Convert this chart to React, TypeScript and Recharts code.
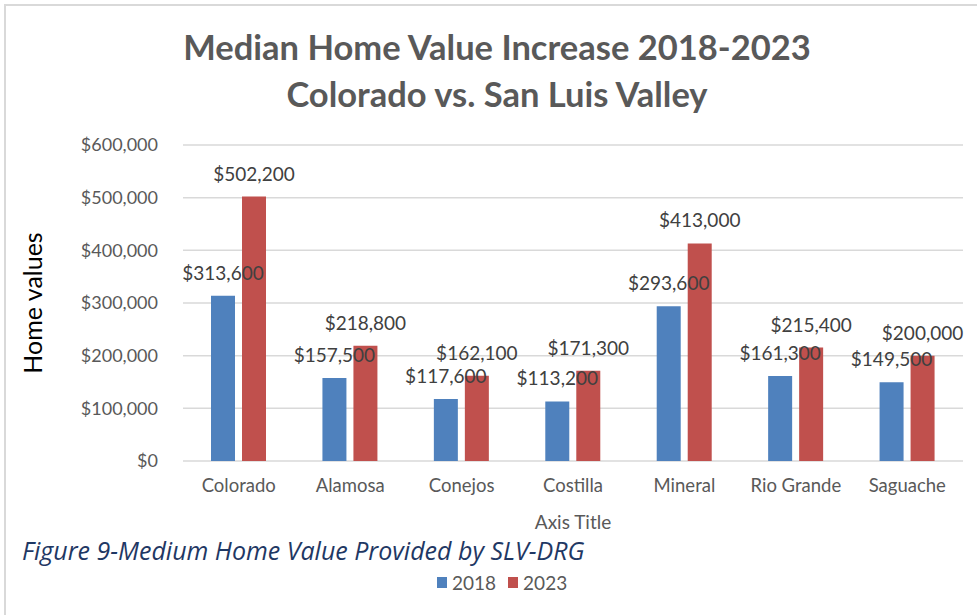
import React from 'react';
import { BarChart, Bar, XAxis, YAxis, CartesianGrid, LabelList } from 'recharts';

const counties = ['Colorado', 'Alamosa', 'Conejos', 'Costilla', 'Mineral', 'Rio Grande', 'Saguache'];
const values2018 = [313600, 157500, 117600, 113200, 293600, 161300, 149500];
const values2023 = [502200, 218800, 162100, 171300, 413000, 215400, 200000];
const yTicks = [0, 100000, 200000, 300000, 400000, 500000, 600000];

const chartData = counties.map((name, i) => ({
  name,
  y2018: values2018[i],
  y2023: values2023[i],
}));

const BLUE = '#4F81BD';
const RED = '#C0504D';
const FONT = 'Lato, sans-serif';

const money = (v: number) => '$' + v.toLocaleString('en-US');

const App: React.FC = () => {
  return (
    <div style={{ position: 'absolute', top: 0, left: 0, width: 977, height: 615, background: '#fff', overflow: 'hidden' }}>
      <div style={{ position: 'absolute', top: 4, left: 4, right: -10, bottom: -10, borderTop: '2px solid #D9D9D9', borderLeft: '2px solid #D9D9D9' }} />
      <div style={{ position: 'absolute', top: 23, left: 0, width: 994, textAlign: 'center', fontFamily: FONT, fontWeight: 700, fontSize: 34.5, lineHeight: '47px', color: '#595959' }}>
        Median Home Value Increase 2018-2023
        <br />
        Colorado vs. San Luis Valley
      </div>
      <BarChart
        width={977}
        height={615}
        data={chartData}
        margin={{ top: 145, right: 14, bottom: 124, left: 0 }}
        barSize={24}
        barGap={7}
        style={{ position: 'absolute', top: 0, left: 0 }}
      >
        <CartesianGrid vertical={false} stroke="#D9D9D9" strokeWidth={1.5} />
        <XAxis
          dataKey="name"
          height={30}
          axisLine={false}
          tickLine={false}
          tickSize={0}
          tickMargin={18}
          tick={{ fill: '#595959', fontSize: 18.5, fontFamily: FONT }}
          interval={0}
          label={{ value: 'Axis Title', position: 'insideBottom', offset: -38, fill: '#595959', fontSize: 19, fontFamily: FONT }}
        />
        <YAxis
          width={183}
          domain={[0, 600000]}
          ticks={yTicks}
          tickFormatter={money}
          axisLine={false}
          tickLine={false}
          tickSize={0}
          tickMargin={25}
          tick={{ fill: '#595959', fontSize: 18, fontFamily: FONT }}
          label={{ value: 'Home values', angle: -90, position: 'insideLeft', offset: 33, fill: '#000', fontSize: 25, fontFamily: FONT, style: { textAnchor: 'middle' } }}
        />
        <Bar dataKey="y2018" name="2018" fill={BLUE} isAnimationActive={false}>
          <LabelList dataKey="y2018" position="top" offset={16} formatter={(v: number) => money(v)} fill="#404040" fontSize={19} fontFamily={FONT} />
        </Bar>
        <Bar dataKey="y2023" name="2023" fill={RED} isAnimationActive={false}>
          <LabelList dataKey="y2023" position="top" offset={16} formatter={(v: number) => money(v)} fill="#404040" fontSize={19} fontFamily={FONT} />
        </Bar>
      </BarChart>
      <div style={{ position: 'absolute', top: 533, left: 22, fontFamily: '"Open Sans", sans-serif', fontStyle: 'italic', fontSize: 25, color: '#1F3864' }}>
        Figure 9-Medium Home Value Provided by SLV-DRG
      </div>
      <div style={{ position: 'absolute', top: 571, left: 437, display: 'flex', gap: 12, fontFamily: FONT, fontSize: 19, color: '#595959', alignItems: 'center' }}>
        <span style={{ display: 'flex', alignItems: 'center', gap: 5 }}>
          <span style={{ width: 10, height: 11, background: BLUE, display: 'inline-block' }} />2018
        </span>
        <span style={{ display: 'flex', alignItems: 'center', gap: 5 }}>
          <span style={{ width: 10, height: 11, background: RED, display: 'inline-block' }} />2023
        </span>
      </div>
    </div>
  );
};

export default App;
